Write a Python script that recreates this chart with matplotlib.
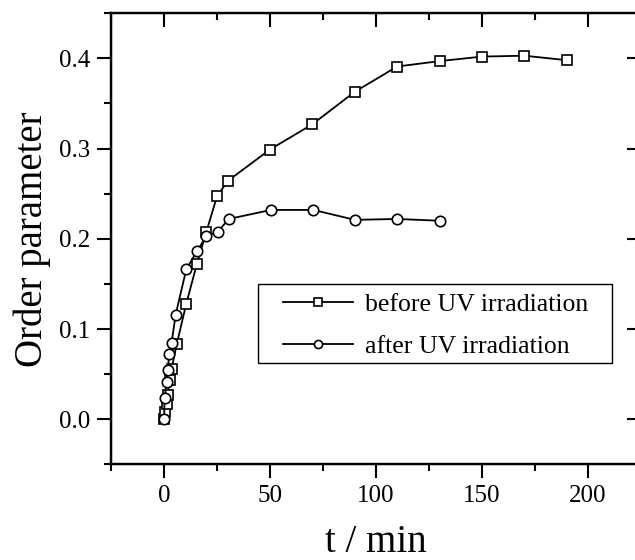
import matplotlib
matplotlib.use("Agg")
import matplotlib.pyplot as plt
from matplotlib.ticker import MultipleLocator, FixedLocator
from matplotlib.patches import Rectangle

plt.rcParams['font.family'] = ['Liberation Serif', 'DejaVu Serif']

# Data
t_before = [0, 0.5, 1.2, 1.7, 2.8, 3.6, 6, 10.5, 15.5, 20, 25, 30, 50, 70, 90, 110, 130, 150, 170, 190]
s_before = [0.000, 0.008, 0.017, 0.027, 0.043, 0.056, 0.083, 0.128, 0.172, 0.208, 0.247, 0.264,
            0.299, 0.327, 0.363, 0.391, 0.397, 0.402, 0.403, 0.398]
t_after = [0, 0.3, 1.2, 1.7, 2.5, 3.6, 5.5, 10.5, 15.5, 20, 25.5, 30.5, 50.5, 70.5, 90, 110, 130]
s_after = [0.000, 0.023, 0.041, 0.054, 0.072, 0.085, 0.116, 0.166, 0.186, 0.203, 0.208, 0.222,
           0.232, 0.232, 0.221, 0.222, 0.220]

label_before = "before UV irradiation"
label_after = "after UV irradiation"
x_ticks = [0, 50, 100, 150, 200]
y_ticks = [0.0, 0.1, 0.2, 0.3, 0.4]
xlim = (-25, 225)
ylim = (-0.05, 0.45)

fig = plt.figure(figsize=(6.35, 5.6), dpi=100)
rect = [111/635, (560-464.3)/560, (641-111)/635, (464.3-13.3)/560]
ax = fig.add_axes(rect)

ax.plot(t_before, s_before, '-', color='black', lw=1.3, marker='s', ms=7.5,
        mfc='white', mec='black', mew=1.2, label=label_before, zorder=3)
ax.plot(t_after, s_after, '-', color='black', lw=1.3, marker='o', ms=7.5,
        mfc='white', mec='black', mew=1.2, label=label_after, zorder=4)

ax.set_xlim(*xlim)
ax.set_ylim(*ylim)

ax.xaxis.set_major_locator(FixedLocator(x_ticks))
ax.xaxis.set_minor_locator(MultipleLocator(25))
ax.yaxis.set_major_locator(FixedLocator(y_ticks))
ax.yaxis.set_minor_locator(MultipleLocator(0.05))
ax.set_yticklabels([f"{v:.1f}" for v in y_ticks])

for sp in ax.spines.values():
    sp.set_linewidth(1.6)

ax.tick_params(axis='x', which='major', bottom=True, top=False, direction='out',
               length=10, width=1.5, labelsize=18, pad=5)
ax.tick_params(axis='x', which='minor', bottom=True, top=False, direction='out',
               length=5, width=1.5)
ax.tick_params(axis='y', which='major', left=True, right=False, direction='out',
               length=10, width=1.5, labelsize=18, pad=5)
ax.tick_params(axis='y', which='minor', left=True, right=False, direction='out',
               length=5, width=1.5)

# top ticks (inward)
axt = ax.twiny()
axt.set_xlim(*xlim)
axt.xaxis.set_major_locator(FixedLocator(x_ticks))
axt.xaxis.set_minor_locator(MultipleLocator(25))
axt.tick_params(axis='x', which='major', direction='in', length=10, width=1.5,
                top=True, bottom=False, labeltop=False, labelbottom=False)
axt.tick_params(axis='x', which='minor', direction='in', length=5, width=1.5,
                top=True, bottom=False)
axt.tick_params(axis='y', left=False, right=False, labelleft=False, labelright=False)
for sp in axt.spines.values():
    sp.set_linewidth(1.6)

# right ticks (inward, major only)
axr = ax.twinx()
axr.set_ylim(*ylim)
axr.yaxis.set_major_locator(FixedLocator(y_ticks))
axr.yaxis.set_minor_locator(FixedLocator([]))
axr.tick_params(axis='y', which='major', direction='in', length=10, width=1.5,
                right=True, left=False, labelright=False, labelleft=False)
axr.tick_params(axis='x', top=False, bottom=False, labeltop=False, labelbottom=False)

ax.set_xlabel("t / min", fontsize=28, labelpad=12)
ax.set_ylabel("Order parameter", fontsize=28, labelpad=6)

leg = ax.legend(loc='upper left', bbox_to_anchor=(0.3245, 0.380), borderaxespad=0,
                fontsize=18.5, frameon=False, borderpad=0,
                handlelength=2.72, handletextpad=0.47, markerscale=0.78,
                labelspacing=0.75)
leg.set_zorder(10)

# legend frame as in the reference
frame = Rectangle((0.2774, 0.2246), 0.945 - 0.2774, 0.3998 - 0.2246,
                  transform=ax.transAxes, facecolor='white', edgecolor='black',
                  linewidth=1.0, zorder=9)
ax.add_patch(frame)

fig.savefig("out.png", dpi=100)
